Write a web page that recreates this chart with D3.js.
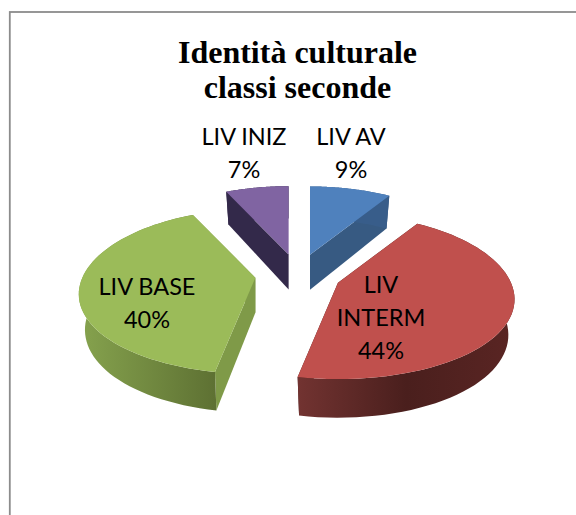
<!DOCTYPE html>
<html>
<head>
<meta charset="utf-8">
<script src="https://cdn.jsdelivr.net/npm/d3@7"></script>
<style>
    html, body { margin: 0; padding: 0; background: #fff; }
    svg { display: block; }
</style>
</head>
<body>
<svg width="576" height="515"></svg>
<script>
const titleLines = ["Identità culturale", "classi seconde"];
const categories = ["LIV AV", "LIV INTERM", "LIV BASE", "LIV INIZ"];
const percents = [9, 44, 40, 7];

const topColors = ["#4f81bd", "#c0504d", "#9bbb59", "#8064a2"];
const faceColors = ["#375a82", "#4a1f1d", "#7f9a48", "#33294a"];
const rimColors = [["#385d8a", "#385d8a"], ["#723331", "#4a1f1d"], ["#86a34e", "#5e7133"], ["#33294a", "#33294a"]];
// drawing order, back to front
const drawOrder = [3, 0, 2, 1];

const svg = d3.select("svg");

// page frame
svg.append("rect")
    .attr("x", 9.8).attr("y", 12)
    .attr("width", 600).attr("height", 600)
    .attr("fill", "#fff")
    .attr("stroke", "#8c8c8c")
    .attr("stroke-width", 1.8);

// title
svg.selectAll(".title")
    .data(titleLines)
    .enter()
    .append("text")
    .attr("class", "title")
    .attr("x", 297.5)
    .attr("y", (d, i) => 63 + i * 35)
    .attr("text-anchor", "middle")
    .attr("font-family", "Liberation Serif")
    .attr("font-weight", "bold")
    .attr("font-size", 32)
    .text(d => d);

// pie geometry, tilted with a little perspective
const center = { x: 298, y: 275 };
const radiusX = 173, radiusY = 80, perspectiveX = 0.2, perspectiveY = 0.17;
const explodeX = 43, explodeY = 21, thickness = 35, bottomShrink = 0.965;

const slices = d3.pie().sort(null).value(d => d)(percents);

function apex(s) {
    let mid = (s.startAngle + s.endAngle) / 2;
    return {
        x: center.x + explodeX * Math.sin(mid),
        y: center.y - explodeY * Math.cos(mid)
    };
}

// screen position of the rim at angle a, z = 0 top surface, z = 1 bottom
function rimPoint(s, a, z) {
    let o = apex(s);
    let px = 1 / (1 + perspectiveX * Math.cos(a));
    let py = 1 / (1 + perspectiveY * Math.cos(a));
    let shrink = z ? bottomShrink : 1;
    return [
        o.x + radiusX * Math.sin(a) * px * shrink,
        o.y - radiusY * Math.cos(a) * py + z * thickness * (py + 1) / 2
    ];
}

function apexPoint(s, z) {
    let o = apex(s);
    return [o.x, o.y + z * thickness];
}

function arcPoints(s, z) {
    return d3.range(0, 61)
        .map(i => rimPoint(s, s.startAngle + (s.endAngle - s.startAngle) * i / 60, z));
}

const line = d3.line().curve(d3.curveLinear);
const defs = svg.append("defs");

drawOrder.forEach(i => {
    let s = slices[i];
    let top = arcPoints(s, 0);
    let bottom = arcPoints(s, 1);
    let g = svg.append("g").attr("class", "slice");

    // rim gradient runs across the visible wall
    let xs = d3.extent(top, d => d[0]);
    let grad = defs.append("linearGradient")
        .attr("id", "rim" + i)
        .attr("gradientUnits", "userSpaceOnUse")
        .attr("x1", xs[0]).attr("x2", xs[1])
        .attr("y1", 0).attr("y2", 0);
    let stops = i === 1 ? [rimColors[i][0], rimColors[i][1], "#5a2523"] : rimColors[i];
    grad.selectAll("stop")
        .data(stops)
        .enter()
        .append("stop")
        .attr("offset", (d, k) => k / (stops.length - 1))
        .attr("stop-color", d => d);

    // cut faces
    [s.startAngle, s.endAngle].forEach(a => {
        let face = [apexPoint(s, 0), rimPoint(s, a, 0), rimPoint(s, a, 1), apexPoint(s, 1)];
        g.append("path")
            .attr("d", line(face) + "Z")
            .attr("fill", faceColors[i]);
    });

    // outer wall
    g.append("path")
        .attr("d", line(top.concat(bottom.slice().reverse())) + "Z")
        .attr("fill", "url(#rim" + i + ")");

    // top surface
    g.append("path")
        .attr("d", line([apexPoint(s, 0)].concat(top)) + "Z")
        .attr("fill", topColors[i]);
});

// data labels
const labelLines = [
    [categories[0], percents[0] + "%"],
    ["LIV", "INTERM", percents[1] + "%"],
    [categories[2], percents[2] + "%"],
    [categories[3], percents[3] + "%"]
];
const labelPos = [[351, 145], [381, 293], [147, 295], [244, 145]];

labelLines.forEach((lines, i) => {
    svg.append("g").selectAll("text")
        .data(lines)
        .enter()
        .append("text")
        .attr("x", labelPos[i][0])
        .attr("y", (d, k) => labelPos[i][1] + k * 33)
        .attr("text-anchor", "middle")
        .attr("font-family", "Lato")
        .attr("font-size", 23.5)
        .attr("fill", "#000")
        .text(d => d);
});
</script>
</body>
</html>
